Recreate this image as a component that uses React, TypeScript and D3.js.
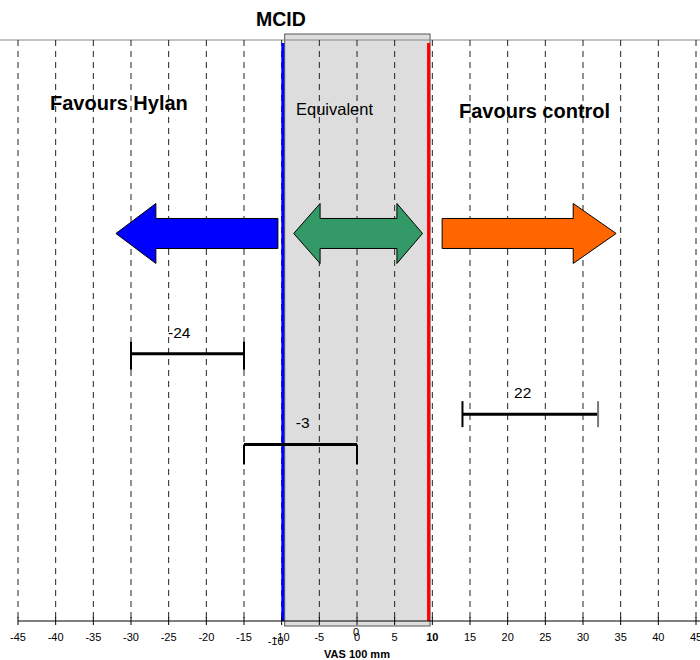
import React, { useEffect, useRef } from "react";
import * as d3 from "d3";

// x axis ticks (VAS 100 mm)
const ticks = [-45, -40, -35, -30, -25, -20, -15, -10, -5, 0, 5, 10, 15, 20, 25, 30, 35, 40, 45];

// error bars: point estimate, lower and upper limit, row position
const estimates = [-24, -3, 22];
const lowers = [-30, -15, 14];
const uppers = [-15, 0, 32];
const rows = [54, 69.6, 64.4];
const labelX = [-23.6, -7.2, 22];

// MCID band and its edges
const mcidBand = [-9.6, 9.7];
const mcidLeft = -9.85;
const mcidRight = 9.5;

// arrows: [x points], row of the arrow
const arrowRow = 33.3;
const blueArrow = [-32, -26.7, -10.5];
const greenArrow = [-8.4, -4.9, 5.3, 8.7];
const orangeArrow = [11.3, 28.7, 34.4];

const App = () => {
  const ref = useRef<SVGSVGElement>(null);

  useEffect(() => {
    const svg = d3.select(ref.current);
    svg.selectAll("*").remove();

    const width = 700,
      height = 660;
    const top = 40,
      bottom = 621;

    const x = d3.scaleLinear().domain([-45, 45]).range([18, 696]);
    const y = d3.scaleLinear().domain([0, 100]).range([top, bottom]);
    const font = "Liberation Sans, Arial, sans-serif";

    svg.attr("width", width).attr("height", height).style("font-family", font);

    // MCID grey box
    svg
      .append("rect")
      .attr("x", x(mcidBand[0]))
      .attr("y", top - 6)
      .attr("width", x(mcidBand[1]) - x(mcidBand[0]))
      .attr("height", bottom + 5 - (top - 6))
      .attr("fill", "#dddddd")
      .attr("stroke", "#555")
      .attr("stroke-width", 1);

    // top border
    svg
      .append("line")
      .attr("x1", 0)
      .attr("x2", width)
      .attr("y1", top)
      .attr("y2", top)
      .attr("stroke", "#888")
      .attr("stroke-width", 1);

    // dashed grid
    svg
      .selectAll(".grid")
      .data(ticks)
      .enter()
      .append("line")
      .attr("x1", d => x(d))
      .attr("x2", d => x(d))
      .attr("y1", top)
      .attr("y2", bottom)
      .attr("stroke", "#222")
      .attr("stroke-width", 1)
      .attr("stroke-dasharray", "6,5");

    // MCID edges
    svg
      .append("line")
      .attr("x1", x(mcidLeft))
      .attr("x2", x(mcidLeft))
      .attr("y1", top + 3)
      .attr("y2", bottom)
      .attr("stroke", "#0000ff")
      .attr("stroke-width", 3);
    svg
      .append("line")
      .attr("x1", x(mcidRight))
      .attr("x2", x(mcidRight))
      .attr("y1", top + 3)
      .attr("y2", bottom)
      .attr("stroke", "#ff0000")
      .attr("stroke-width", 3);

    // arrows
    const yc = y(arrowRow);
    const head = 30,
      shaft = 15;
    const arrowStyle = (p: d3.Selection<SVGPathElement, unknown, null, undefined>, fill: string) =>
      p.attr("fill", fill).attr("stroke", "#000").attr("stroke-width", 1);

    const line = d3.line();
    const b = blueArrow.map(x);
    arrowStyle(
      svg.append("path").attr(
        "d",
        line([
          [b[0], yc],
          [b[1], yc - head],
          [b[1], yc - shaft],
          [b[2], yc - shaft],
          [b[2], yc + shaft],
          [b[1], yc + shaft],
          [b[1], yc + head],
        ]) + "Z"
      ),
      "#0000ff"
    );
    const g = greenArrow.map(x);
    arrowStyle(
      svg.append("path").attr(
        "d",
        line([
          [g[0], yc],
          [g[1], yc - head],
          [g[1], yc - shaft],
          [g[2], yc - shaft],
          [g[2], yc - head],
          [g[3], yc],
          [g[2], yc + head],
          [g[2], yc + shaft],
          [g[1], yc + shaft],
          [g[1], yc + head],
        ]) + "Z"
      ),
      "#339966"
    );
    const o = orangeArrow.map(x);
    arrowStyle(
      svg.append("path").attr(
        "d",
        line([
          [o[0], yc - shaft],
          [o[1], yc - shaft],
          [o[1], yc - head],
          [o[2], yc],
          [o[1], yc + head],
          [o[1], yc + shaft],
          [o[0], yc + shaft],
        ]) + "Z"
      ),
      "#ff6600"
    );

    // text labels
    svg
      .append("text")
      .attr("x", 256)
      .attr("y", 26)
      .attr("font-size", 19.5)
      .attr("font-weight", "bold")
      .text("MCID");
    svg
      .append("text")
      .attr("x", 50)
      .attr("y", 110)
      .attr("font-size", 20)
      .attr("font-weight", "bold")
      .text("Favours Hylan");
    svg
      .append("text")
      .attr("x", 296)
      .attr("y", 115)
      .attr("font-size", 16.5)
      .text("Equivalent");
    svg
      .append("text")
      .attr("x", 459)
      .attr("y", 118)
      .attr("font-size", 20)
      .attr("font-weight", "bold")
      .text("Favours control");

    // error bars
    const bars = svg
      .selectAll(".bar")
      .data(estimates)
      .enter()
      .append("g");
    bars
      .append("line")
      .attr("x1", (d, i) => x(lowers[i]))
      .attr("x2", (d, i) => x(uppers[i]))
      .attr("y1", (d, i) => y(rows[i]))
      .attr("y2", (d, i) => y(rows[i]))
      .attr("stroke", "#000")
      .attr("stroke-width", 3);
    // caps: the first and third bars are centered, the second hangs down
    const capTop = [-12, 0, -13];
    const capBot = [16, 20, 13];
    bars
      .append("line")
      .attr("x1", (d, i) => x(lowers[i]))
      .attr("x2", (d, i) => x(lowers[i]))
      .attr("y1", (d, i) => y(rows[i]) + capTop[i])
      .attr("y2", (d, i) => y(rows[i]) + capBot[i])
      .attr("stroke", "#000")
      .attr("stroke-width", 2);
    bars
      .append("line")
      .attr("x1", (d, i) => x(uppers[i]))
      .attr("x2", (d, i) => x(uppers[i]))
      .attr("y1", (d, i) => y(rows[i]) + capTop[i])
      .attr("y2", (d, i) => y(rows[i]) + capBot[i])
      .attr("stroke", (d, i) => (i === 2 ? "#777" : "#000"))
      .attr("stroke-width", 2);
    bars
      .append("text")
      .attr("x", (d, i) => x(labelX[i]))
      .attr("y", (d, i) => y(rows[i]) - 16)
      .attr("text-anchor", "middle")
      .attr("font-size", 15.5)
      .text(d => d);

    // bottom axis
    svg
      .append("line")
      .attr("x1", x(-45))
      .attr("x2", width)
      .attr("y1", bottom)
      .attr("y2", bottom)
      .attr("stroke", "#000")
      .attr("stroke-width", 1);
    svg
      .selectAll(".tick")
      .data(ticks)
      .enter()
      .append("line")
      .attr("x1", d => x(d))
      .attr("x2", d => x(d))
      .attr("y1", bottom - 4)
      .attr("y2", bottom + 4)
      .attr("stroke", "#000");
    svg
      .selectAll(".ticklabel")
      .data(ticks)
      .enter()
      .append("text")
      .attr("x", d => x(d))
      .attr("y", bottom + 20)
      .attr("text-anchor", "middle")
      .attr("font-size", 11)
      .attr("font-weight", d => (d === 10 ? "bold" : "normal"))
      .text(d => d);
    // overlapping extra labels at -10 and 0
    svg
      .append("text")
      .attr("x", x(-10) - 6)
      .attr("y", bottom + 24)
      .attr("text-anchor", "middle")
      .attr("font-size", 11)
      .text("-10");
    svg
      .append("text")
      .attr("x", x(0) - 1)
      .attr("y", bottom + 15)
      .attr("text-anchor", "middle")
      .attr("font-size", 11)
      .text("0");

    svg
      .append("text")
      .attr("x", x(0))
      .attr("y", 658)
      .attr("text-anchor", "middle")
      .attr("font-size", 11)
      .attr("font-weight", "bold")
      .text("VAS 100 mm");
  }, []);

  return <svg ref={ref} style={{ position: "absolute", left: 0, top: 0 }} />;
};

export default App;
